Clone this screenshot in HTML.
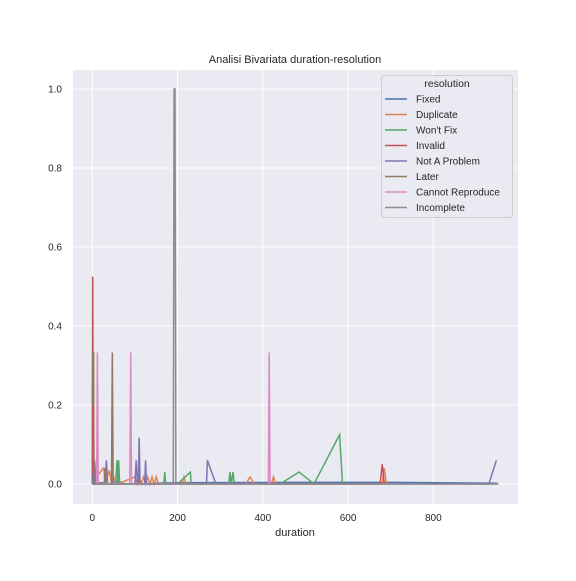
<!DOCTYPE html>
<html><head><meta charset="utf-8"><style>
body{margin:0;background:#fff;}
svg text{font-family:"Liberation Sans",Arial,sans-serif;fill:#262626;}
</style></head><body>
<svg id="c" width="576" height="576" xmlns="http://www.w3.org/2000/svg">
<rect x="73" y="70" width="445" height="434" fill="#eaeaf2"/>
<g id="grid"></g><g id="series"></g><g id="ticks"></g>
<text x="295" y="63" font-size="11" text-anchor="middle">Analisi Bivariata duration-resolution</text>
<text x="295" y="536" font-size="11" text-anchor="middle">duration</text>
<g id="legend"></g>
</svg>
<script>
const xTicks=[0,200,400,600,800];
const yTicks=[0.0,0.2,0.4,0.6,0.8,1.0];
const names=["Fixed","Duplicate","Won't Fix","Invalid","Not A Problem","Later","Cannot Reproduce","Incomplete"];
const colors=["#4c72b0","#dd8452","#55a868","#c44e52","#8172b3","#937860","#da8bc3","#8c8c8c"];
const fixedX=[0,20,40,60,70,80,200,500,700,950];
const fixedY=[0,0.003,0,0.01,0.002,0,0.003,0.004,0.004,0.002];
const dupX=[0,25,27,30,40,45,50,60,100,105,110,115,120,125,130,135,140,145,150,155,160,210,215,220,360,370,380,420,425,430,680,685,690];
const dupY=[0,0.04,0.04,0,0.035,0,0.018,0,0.018,0,0.018,0,0.018,0,0.018,0,0.018,0,0.018,0,0,0,0.018,0,0,0.018,0,0,0.018,0,0,0.04,0];
const wfX=[0,8,10,12,55,58,60,62,64,108,110,112,168,170,172,200,230,232,320,323,326,330,333,440,485,520,580,587];
const wfY=[0,0,0.06,0,0,0.06,0,0.06,0,0,0.03,0,0,0.03,0,0,0.03,0,0,0.03,0,0.03,0,0,0.03,0,0.125,0];
const invX=[0,1,2,675,680,685];
const invY=[0,0.525,0,0,0.05,0];
const napX=[0,5,7,30,33,36,100,103,106,108,110,112,123,125,127,268,270,290,930,948];
const napY=[0,0.06,0,0,0.06,0,0,0.06,0,0,0.117,0,0,0.06,0,0,0.06,0,0,0.06];
const latX=[0,1,3,4,28,30,32,45,47,49];
const latY=[0.2,0.333,0.333,0,0,0.04,0,0,0.333,0];
const crX=[10,12,14,88,90,92,413,415,417];
const crY=[0,0.333,0,0,0.333,0,0,0.333,0];
const incX=[0,190,192,194,196,953];
const incY=[0,0,1.0,1.0,0,0];
const seriesX=[fixedX,dupX,wfX,invX,napX,latX,crX,incX];
const seriesY=[fixedY,dupY,wfY,invY,napY,latY,crY,incY];
const sx=d=>92.3+d*0.4263, sy=v=>484-v*395;
const NS="http://www.w3.org/2000/svg";
function mk(t,a,p){const e=document.createElementNS(NS,t);for(const k in a)e.setAttribute(k,a[k]);p.appendChild(e);return e;}
const G=document.getElementById('grid'),T=document.getElementById('ticks'),S=document.getElementById('series'),L=document.getElementById('legend');
xTicks.forEach(v=>{const l=mk('line',{x1:sx(v),x2:sx(v),y1:70,y2:504,stroke:'#fff','stroke-width':1},G);


const t=mk('text',{x:sx(v),y:521,'font-size':10,'text-anchor':'middle'},T);t.textContent=v;

});
yTicks.forEach(v=>{const l=mk('line',{x1:73,x2:518,y1:sy(v),y2:sy(v),stroke:'#fff','stroke-width':1},G);


const t=mk('text',{x:62,y:sy(v)+3.5,'font-size':10,'text-anchor':'end'},T);t.textContent=v.toFixed(1);

});
seriesX.forEach((xs,i)=>{const pts=xs.map((x,j)=>sx(x).toFixed(1)+','+sy(seriesY[i][j]).toFixed(1)).join(' ');
const p=mk('polyline',{points:pts,fill:'none',stroke:colors[i],'stroke-width':1.5},S);

});
const box=mk('rect',{x:381.5,y:75.5,width:131,height:142,rx:3,fill:'#eaeaf2','fill-opacity':0.8,stroke:'#ccc'},L);


const lt=mk('text',{x:447,y:87,'font-size':10.5,'text-anchor':'middle'},L);lt.textContent='resolution';


names.forEach((n,i)=>{const y=99+i*15.5;
const g=mk('g',{},L);


mk('line',{x1:385,x2:407,y1:y,y2:y,stroke:colors[i],'stroke-width':1.5},g);
const t=mk('text',{x:416,y:y+3.5,'font-size':10},g);t.textContent=n;});
</script>
</body></html>
